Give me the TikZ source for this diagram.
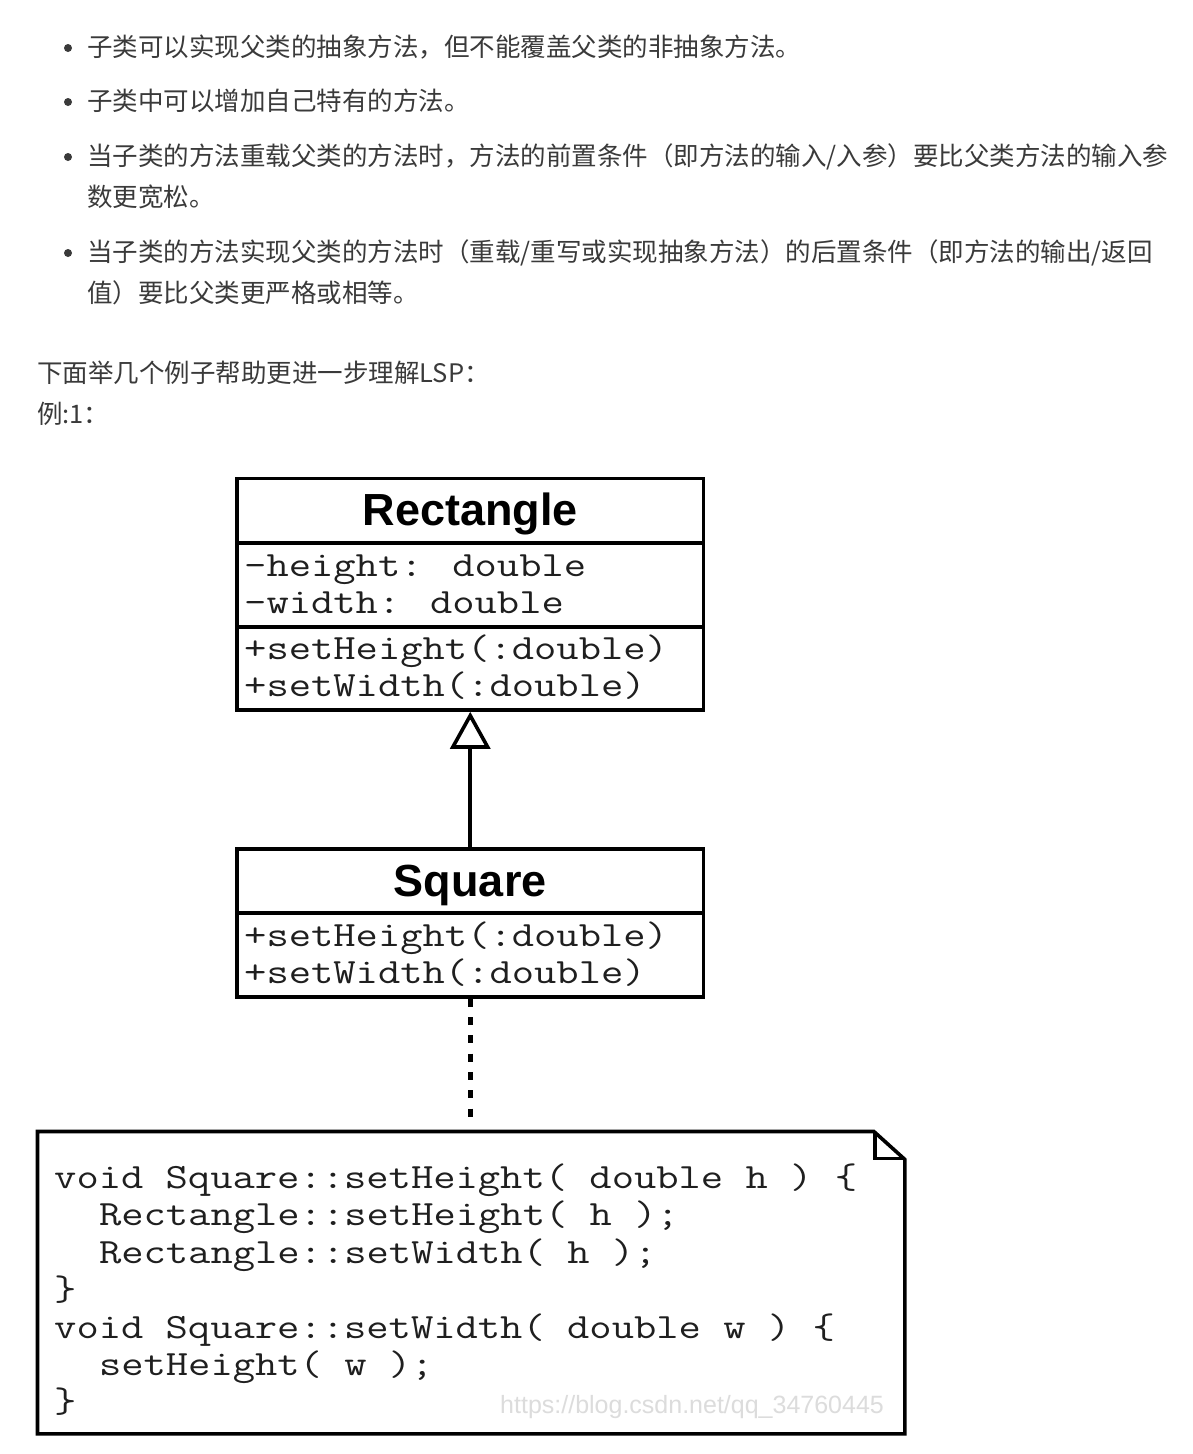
\documentclass[tikz,border=0pt]{standalone}
\usepackage{fontspec}
\setmainfont{Liberation Sans}
\newfontfamily\cjk{Noto Sans CJK SC}
\newfontfamily\umlmono{Latin Modern Mono}[FakeStretch=1.22]
\newfontfamily\codemono{Latin Modern Mono}[FakeStretch=1.22]
\usetikzlibrary{arrows.meta}
\definecolor{txt}{HTML}{3A3A3A}
\definecolor{wm}{HTML}{DCDCDC}
\begin{document}
\begin{tikzpicture}[x=1pt,y=-1pt,
  cn/.style={anchor=base west, inner sep=0, font=\cjk\fontsize{25.5}{30}\selectfont, text=txt},
  bul/.style={circle, fill=txt, inner sep=0, minimum size=8},
  box/.style={draw, line width=3.6, inner sep=0, minimum width=466.5},
  ttl/.style={anchor=base, inner sep=0, font=\bfseries\fontsize{45}{50}\selectfont},
  mono/.style={anchor=base west, inner sep=0, font=\umlmono\fontsize{35.5}{40}\selectfont, text=black!88},
  code/.style={anchor=base west, inner sep=0, font=\codemono\fontsize{35.5}{40}\selectfont, text=black!88},
  umlline/.style={line width=3.6},
]
\fill[white] (0,0) rectangle (1193,1454);
\useasboundingbox (0,0) rectangle (1193,1454);

% bullet list
\node[bul] (b1) at (68,48) {};
\node[cn] (t1) at (87,56) {子类可以实现父类的抽象方法，但不能覆盖父类的非抽象方法。};
\node[bul] (b2) at (68,102) {};
\node[cn] (t2) at (87,110) {子类中可以增加自己特有的方法。};
\node[bul] (b3) at (68,157) {};
\node[cn] (t3) at (87,165) {当子类的方法重载父类的方法时，方法的前置条件（即方法的输入/入参）要比父类方法的输入参};
\node[cn] (t3b) at (87,206) {数更宽松。};
\node[bul] (b4) at (68,253) {};
\node[cn] (t4) at (87,261) {当子类的方法实现父类的方法时（重载/重写或实现抽象方法）的后置条件（即方法的输出/返回};
\node[cn] (t4b) at (87,302) {值）要比父类更严格或相等。};
\node[cn] (t5) at (37,382) {下面举几个例子帮助更进一步理解LSP：};
\node[cn] (t6) at (37,423) {例:1：};

% Rectangle class
\node[box, minimum height=231.5] (rect) at (470.25,594.25) {};
\draw[umlline] (rect.west |- 0,543) -- (rect.east |- 0,543);
\draw[umlline] (rect.west |- 0,627) -- (rect.east |- 0,627);
\node[ttl] (rectT) at (470.25,525) {Rectangle};
\node[mono] (ra1) at (244,576) {-height: double};
\node[mono] (ra2) at (244,613) {-width: double};
\node[mono] (rm1) at (244,659) {+setHeight(:double)};
\node[mono] (rm2) at (244,696) {+setWidth(:double)};

% Square class
\node[box, minimum height=148] (sq) at (470.25,923) {};
\draw[umlline] (sq.west |- 0,913) -- (sq.east |- 0,913);
\node[ttl] (sqT) at (470.25,896) {Square};
\node[mono] (sm1) at (244,946) {+setHeight(:double)};
\node[mono] (sm2) at (244,983) {+setWidth(:double)};

% generalization
\draw[umlline, -{Triangle[open, length=37, width=40, line width=3.6]}] (sq.north) -- (rect.south);

% note
\node[inner sep=0, minimum width=867, minimum height=302, anchor=north west] (note) at (37.5,1131.5) {};
\coordinate (dotend) at (470.25,1118);
\draw[line width=5, dash pattern=on 8 off 10.3] (sq.south) -- (dotend);
\draw[umlline, line join=miter] (note.north west) -- ([xshift=-31pt]note.north east) -- ([yshift=-28pt]note.north east) -- (note.south east) -- (note.south west) -- cycle;
\draw[umlline] ([xshift=-30pt]note.north east) |- ([yshift=-27pt]note.north east);

\node[code] (c1) at (54,1188) {void Square::setHeight( double h ) \{};
\node[code] (c2) at (98.8,1225.5) {Rectangle::setHeight( h );};
\node[code] (c3) at (98.8,1263) {Rectangle::setWidth( h );};
\node[code] (c4) at (54,1300) {\}};
\node[code] (c5) at (54,1338) {void Square::setWidth( double w ) \{};
\node[code] (c6) at (98.8,1375) {setHeight( w );};
\node[code] (c7) at (54,1412) {\}};
\node[anchor=base west, inner sep=0, font=\fontsize{25}{28}\selectfont, text=wm] (wmk) at (500,1413) {https://blog.csdn.net/qq\_34760445};
\end{tikzpicture}
\end{document}
